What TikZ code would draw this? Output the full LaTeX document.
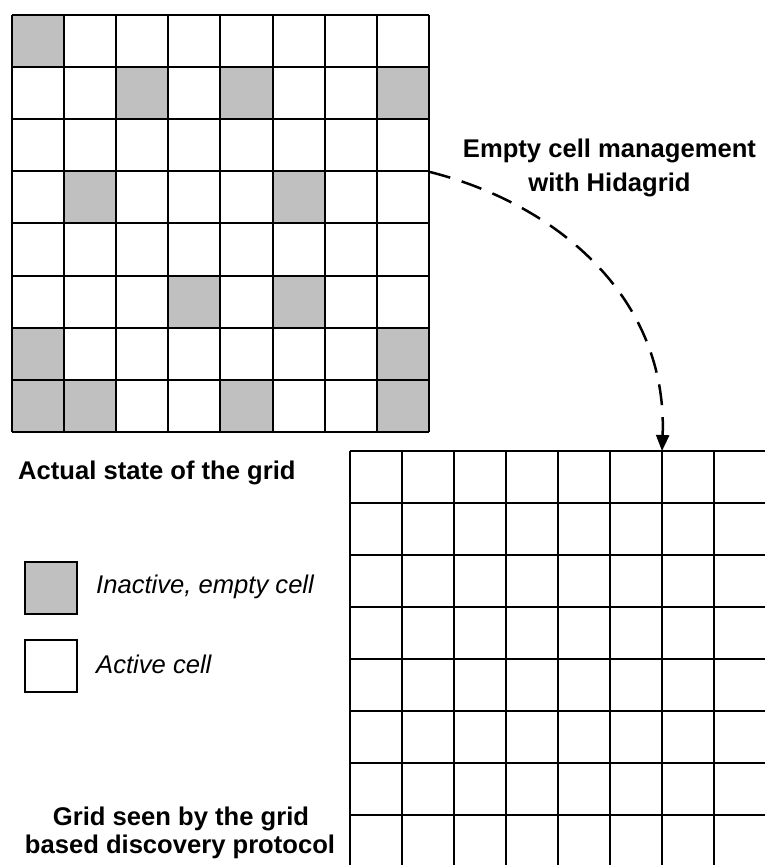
\documentclass[tikz,border=0pt]{standalone}
\usepackage{fontspec}
\setmainfont{Liberation Sans}
\usetikzlibrary{arrows.meta}
\definecolor{cellgray}{HTML}{C0C0C0}
\tikzset{
  gridline/.style={line width=2pt, black},
  emptycell/.style={fill=cellgray, draw=none},
  legendbox/.style={draw=black, line width=2pt, minimum width=52pt, minimum height=52pt, inner sep=0pt, anchor=north west},
  boldlabel/.style={font=\fontsize{25.6}{30}\selectfont\bfseries, inner sep=0pt},
  itallabel/.style={font=\fontsize{25.6}{30}\selectfont\itshape, inner sep=0pt, anchor=base west},
  flowarrow/.style={line width=2.5pt, dash pattern=on 21pt off 12pt, -{Triangle[length=16pt,width=13pt]}}
}
\begin{document}
\begin{tikzpicture}[x=1pt,y=-1pt]
\useasboundingbox (0,0) rectangle (765,865);
\clip (0,0) rectangle (765,865);
% top grid: actual state
\def\tc{52.1}
\foreach \r/\c in {0/0, 1/2, 1/4, 1/7, 3/1, 3/5, 5/3, 5/5, 6/0, 6/7, 7/0, 7/1, 7/4, 7/7}{
  \fill[emptycell] ({12+\c*\tc},{15+\r*\tc}) rectangle ++(\tc,\tc);
}
\foreach \i in {0,...,8}{
  \draw[gridline] ({12+\i*\tc},15) -- ({12+\i*\tc},{15+8*\tc});
  \draw[gridline] (12,{15+\i*\tc}) -- ({12+8*\tc},{15+\i*\tc});
}
\node[draw=none, inner sep=0pt, minimum width=416.8pt, minimum height=416.8pt, anchor=north west] (topgrid) at (12,15) {};
% bottom grid: seen by protocol
\def\bc{52}
\foreach \i in {0,...,8}{
  \draw[gridline] ({350+\i*\bc},451) -- ({350+\i*\bc},{451+8*\bc});
  \draw[gridline] (350,{451+\i*\bc}) -- ({350+8*\bc},{451+\i*\bc});
}
\node[draw=none, inner sep=0pt, minimum width=416pt, minimum height=416pt, anchor=north west] (botgrid) at (350,451) {};
% arrow
\coordinate (start) at (430,172);
\coordinate (end) at (662,451);
\draw[flowarrow] (start) .. controls (560,205) and (668,300) .. (end);
% labels
\node[boldlabel, anchor=base] (mgmt1) at (609.5,157) {Empty cell management};
\node[boldlabel, anchor=base] (mgmt2) at (609.5,191) {with Hidagrid};
\node[boldlabel, anchor=base west] (actual) at (18,479) {Actual state of the grid};
\node[boldlabel, anchor=base] (seen1) at (181,825) {Grid seen by the grid};
\node[boldlabel, anchor=base] (seen2) at (180,853) {based discovery protocol};
% legend
\node[legendbox, fill=cellgray] (lgray) at (24,561) {};
\node[legendbox, fill=white] (lwhite) at (24,639) {};
\node[itallabel] (linact) at (96,593) {Inactive, empty cell};
\node[itallabel] (lact) at (96,673) {Active cell};
\end{tikzpicture}
\end{document}
